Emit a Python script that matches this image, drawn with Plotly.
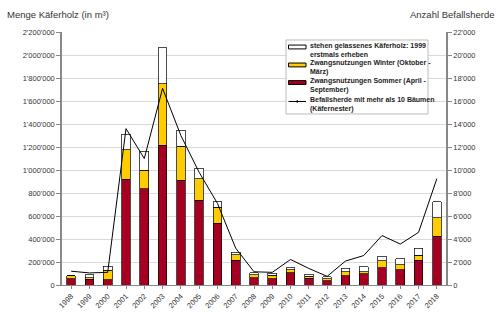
import plotly.graph_objects as go

years = [str(y) for y in range(1998, 2019)]
sommer = [56000, 50000, 47000, 919000, 835000, 1217000, 911000, 738000, 537000, 215000,
          64000, 53000, 108000, 60000, 38000, 81000, 97000, 150000, 133000, 216000, 425000]
winter = [25000, 14000, 83000, 256000, 165000, 532000, 294000, 187000, 137000, 50000,
          24000, 31000, 25000, 14000, 15000, 33000, 18000, 61000, 45000, 44000, 160000]
stehen = [0, 26000, 32000, 134000, 164000, 314000, 140000, 92000, 50000, 22000,
          20000, 19000, 17000, 21000, 20000, 32000, 45000, 39000, 49000, 59000, 140000]
herde = [1200, 1050, 1100, 13600, 11000, 17100, 13000, 9800, 7100, 3200,
         1150, 1100, 2220, 1440, 750, 2080, 2560, 4300, 3560, 4580, 9250]

left_ticks = list(range(0, 2200001, 200000))
right_ticks = list(range(0, 22001, 2000))
fmt = lambda v: f"{v:,}".replace(",", "'")

legend_labels = [
    "stehen gelassenes Käferholz: 1999<br>erstmals erheben",
    "Zwangsnutzungen Winter (Oktober -<br>März)",
    "Zwangsnutzungen Sommer (April -<br>September)",
    "Befallsherde mit mehr als 10 Bäumen<br>(Käfernester)",
]

RED = "#A50021"
YEL = "#FFCC00"
WHITE = "#FFFFFF"

fig = go.Figure()
fig.add_bar(x=years, y=sommer, marker=dict(color=RED, line=dict(color="#000", width=0.7)), showlegend=False)
fig.add_bar(x=years, y=winter, marker=dict(color=YEL, line=dict(color="#000", width=0.7)), showlegend=False)
fig.add_bar(x=years, y=stehen, marker=dict(color=WHITE, line=dict(color="#000", width=0.7)), showlegend=False)
fig.add_scatter(x=years, y=herde, yaxis="y2", mode="lines", line=dict(color="#000", width=1), showlegend=False)

font = "Liberation Sans, Arial, sans-serif"
W, H = 500, 322
L, R, T, B = 62, 54, 31.7, 27
pw, ph = W - L - R, H - T - B

def px(x):
    return (x - L) / pw

def py(y):
    return (H - B - y) / ph

fig.update_layout(
    width=W, height=H, margin=dict(l=L, r=R, t=T, b=B),
    paper_bgcolor="white", plot_bgcolor="white",
    barmode="stack", bargap=0.53,
    font=dict(family=font, size=7.5, color="#333"),
    xaxis=dict(tickangle=-45, showline=True, linecolor="#888", linewidth=1,
               ticks="outside", ticklen=3, tickcolor="#888",
               tickfont=dict(size=7.5, color="#333")),
    yaxis=dict(range=[0, 2200000], tickvals=left_ticks, ticktext=[fmt(v) for v in left_ticks],
               showgrid=True, gridcolor="#d9d9d9", gridwidth=1, zeroline=False,
               showline=True, linecolor="#888", linewidth=1.5, ticks="outside", ticklen=4, tickcolor="#888"),
    yaxis2=dict(range=[0, 22000], tickvals=right_ticks, ticktext=[fmt(v) for v in right_ticks],
                overlaying="y", side="right", showgrid=False, zeroline=False,
                showline=True, linecolor="#888", linewidth=1.5, ticks="outside", ticklen=4, tickcolor="#888"),
)

ann = [
    dict(text="Menge Käferholz (in m³)", x=px(5), y=py(13), xref="paper", yref="paper",
         xanchor="left", yanchor="middle", showarrow=False, font=dict(size=9.5, color="#333")),
    dict(text="Anzahl Befallsherde", x=px(497), y=py(13), xref="paper", yref="paper",
         xanchor="right", yanchor="middle", showarrow=False, font=dict(size=9.5, color="#333")),
]

shapes = [dict(type="rect", xref="paper", yref="paper", x0=px(286), x1=px(428), y0=py(117), y1=py(40),
               line=dict(color="#bbb", width=1), fillcolor="white", layer="above")]
rows_y = [50, 69, 87.5, 107]
sym_y = [47.3, 66, 84.3, 104]
colors = [WHITE, YEL, RED, None]
for i, lab in enumerate(legend_labels):
    if colors[i] is not None:
        shapes.append(dict(type="rect", xref="paper", yref="paper", x0=px(288.5), x1=px(306),
                           y0=py(sym_y[i] + 2), y1=py(sym_y[i] - 2),
                           fillcolor=colors[i], line=dict(color="#000", width=1), layer="above"))
    else:
        shapes.append(dict(type="line", xref="paper", yref="paper", x0=px(288.5), x1=px(306),
                           y0=py(sym_y[i]), y1=py(sym_y[i]), line=dict(color="#000", width=1), layer="above"))
        shapes.append(dict(type="line", xref="paper", yref="paper", x0=px(297.2), x1=px(297.2),
                           y0=py(sym_y[i] + 1.5), y1=py(sym_y[i] - 1.5), line=dict(color="#000", width=1), layer="above"))
    ann.append(dict(text="<b>" + lab.replace("<br>", "</b><br><b>") + "</b>", x=px(308), y=py(rows_y[i]),
                    xref="paper", yref="paper", xanchor="left", yanchor="middle", align="left",
                    showarrow=False, font=dict(size=7, color="#222")))

fig.update_layout(annotations=ann, shapes=shapes)
fig.write_html("out.html")
